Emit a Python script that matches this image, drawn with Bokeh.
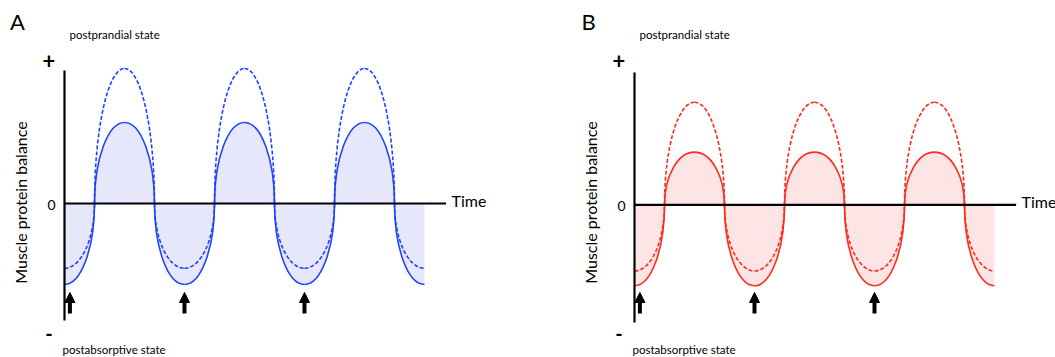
import math
from bokeh.plotting import figure
from bokeh.models import Range1d, Arrow, NormalHead, Label
from bokeh.embed import file_html
from bokeh.resources import INLINE

# ---------------- data ----------------
meal_times = [0, 4, 8]            # meals (arrows)
trough_times = [0, 4, 8, 12]      # centres of the negative (postabsorptive) phases
peak_times = [2, 6, 10]           # centres of the positive (postprandial) phases
half_width = 1.0                  # half duration of each phase
time_end = 12.72                  # end of the time axis line

a_peak_solid = [3.0, 3.0, 3.0]
a_peak_dashed = [5.0, 5.0, 5.0]
a_trough_solid = [-3.0, -3.0, -3.0, -3.0]
a_trough_dashed = [-2.4, -2.4, -2.4, -2.4]

b_peak_solid = [1.95, 1.95, 1.95]
b_peak_dashed = [3.8, 3.8, 3.8]
b_trough_solid = [-3.0, -3.0, -3.0, -3.0]
b_trough_dashed = [-2.45, -2.45, -2.45, -2.45]

y_label = "Muscle protein balance"
top_label = "postprandial state"
bottom_label = "postabsorptive state"
x_label = "Time"

# ---------------- layout ----------------
W, H = 1055, 357
ORG = 0.0     # page offset of the canvas
PX_T = 30.0   # pixels per time unit
PX_Y = 27.0   # pixels per balance unit
FONT = "Lato"

panels = {
    "A": dict(x0=64.0, y0=203.0, line="#1f44ff", fill="#e6e7fb",
              peak_s=a_peak_solid, peak_d=a_peak_dashed,
              tr_s=a_trough_solid, tr_d=a_trough_dashed,
              xr="default", yr="default"),
    "B": dict(x0=634.0, y0=204.3, line="#ff2a1a", fill="#fde5e5",
              peak_s=b_peak_solid, peak_d=b_peak_dashed,
              tr_s=b_trough_solid, tr_d=b_trough_dashed,
              xr="xb", yr="yb"),
}


def xr(pan):
    return Range1d((ORG - pan["x0"]) / PX_T, (ORG + W - pan["x0"]) / PX_T)


def yr(pan):
    return Range1d((pan["y0"] - ORG - H) / PX_Y, (pan["y0"] - ORG) / PX_Y)


p = figure(width=W, height=H, x_range=xr(panels["A"]), y_range=yr(panels["A"]),
           output_backend="svg", toolbar_location=None, min_border=0,
           x_axis_type=None, y_axis_type=None, outline_line_color=None,
           background_fill_color="white", border_fill_color="white")
p.grid.visible = False
p.extra_x_ranges = {"xb": xr(panels["B"])}
p.extra_y_ranges = {"yb": yr(panels["B"])}

K = 0.5523


def beziers(lobes):
    cols = {k: [] for k in ["x0", "y0", "x1", "y1", "cx0", "cy0", "cx1", "cy1"]}
    a = half_width
    for c, h, parts in lobes:
        for side in parts:
            if side == "L":
                vals = (c - a, 0, c, h, c - a, K * h, c - K * a, h)
            else:
                vals = (c, h, c + a, 0, c + K * a, h, c + a, K * h)
            for k, v in zip(cols.keys(), vals):
                cols[k].append(v)
    return cols


for name, pan in panels.items():
    rk = dict(x_range_name=pan["xr"], y_range_name=pan["yr"])
    n_tr = len(trough_times)

    # fills under the solid curve
    p.ellipse(x=peak_times, y=[0] * len(peak_times), width=[2 * half_width] * len(peak_times),
              height=[2 * abs(h) for h in pan["peak_s"]], fill_color=pan["fill"],
              line_color=None, **rk)
    p.ellipse(x=trough_times, y=[0] * n_tr, width=[2 * half_width] * n_tr,
              height=[2 * abs(h) for h in pan["tr_s"]], fill_color=pan["fill"],
              line_color=None, **rk)
    # masks for the unused half of each ellipse
    ml, mr, mb, mt = [], [], [], []
    for c, h in zip(peak_times, pan["peak_s"]):
        ml.append(c - half_width); mr.append(c + half_width); mb.append(-h - 0.1); mt.append(0)
    for i, (c, h) in enumerate(zip(trough_times, pan["tr_s"])):
        ml.append(c - half_width); mr.append(c + half_width); mb.append(0); mt.append(-h + 0.1)
        if i == 0:
            ml.append(c - half_width - 0.05); mr.append(c); mb.append(h - 0.1); mt.append(0)
        if i == n_tr - 1:
            ml.append(c); mr.append(c + half_width + 0.05); mb.append(h - 0.1); mt.append(0)
    p.quad(left=ml, right=mr, bottom=mb, top=mt, fill_color="white", line_color=None, **rk)

    # curves
    for peaks, troughs, dash in [(pan["peak_s"], pan["tr_s"], "solid"),
                                 (pan["peak_d"], pan["tr_d"], "4 2")]:
        lobes = []
        for i, (c, h) in enumerate(zip(trough_times, troughs)):
            parts = ("L", "R")
            if i == 0:
                parts = ("R",)
            elif i == n_tr - 1:
                parts = ("L",)
            lobes.append((c, h, parts))
        for c, h in zip(peak_times, peaks):
            lobes.append((c, h, ("L", "R")))
        p.bezier(**beziers(lobes), line_color=pan["line"], line_width=1.6,
                 line_dash=dash, **rk)

    def dx(px, pan=pan):
        return (px - pan["x0"]) / PX_T

    def dy(py, pan=pan):
        return (pan["y0"] - py) / PX_Y

    # axes lines
    p.segment(x0=[0], y0=[dy(70 if name == "A" else 72)], x1=[0],
              y1=[dy(320 if name == "A" else 322)], line_color="black", line_width=2.2, **rk)
    p.segment(x0=[0], y0=[0], x1=[time_end], y1=[0], line_color="black", line_width=2.2, **rk)

    # meal arrows
    for t in meal_times:
        tx = t + (0.18 if t == meal_times[0] else 0.0)
        p.add_layout(Arrow(end=NormalHead(size=10, fill_color="black", line_color="black", line_width=1),
                           x_start=tx, y_start=dy(313), x_end=tx, y_end=dy(292),
                           line_color="black", line_width=4, **rk))

    def lab(text, px, py, size, align="center", base="middle", angle=0.0, style="normal"):
        p.add_layout(Label(x=dx(px), y=dy(py), text=text, text_font=FONT,
                           text_font_size=size, text_align=align, text_baseline=base,
                           angle=angle, text_color="black", text_font_style=style, **rk))

    off = pan["x0"] - 64.0
    lab(name, 17 + off + (1 if name == "B" else 0), 21, "22px")
    lab(top_label, 68 + off + 1, 34, "11.5px", align="left")
    lab("+", 49 + off - 0.5, 60, "22px", style="bold")
    lab("0", 51 + off, 204.5 + (pan["y0"] - 203), "14px")
    lab("-", 48.5 + off, 332.5, "20px", style="bold")
    lab(bottom_label, 61 + off + 1, 342, "11.5px", align="left", base="top")
    lab(x_label, 450 + off + 1, 200 + (pan["y0"] - 203), "16px", align="left")
    lab(y_label, 20 + off - 0.5, 202, "16px", angle=math.pi / 2)

open("out.html", "w").write(file_html(p, INLINE))
